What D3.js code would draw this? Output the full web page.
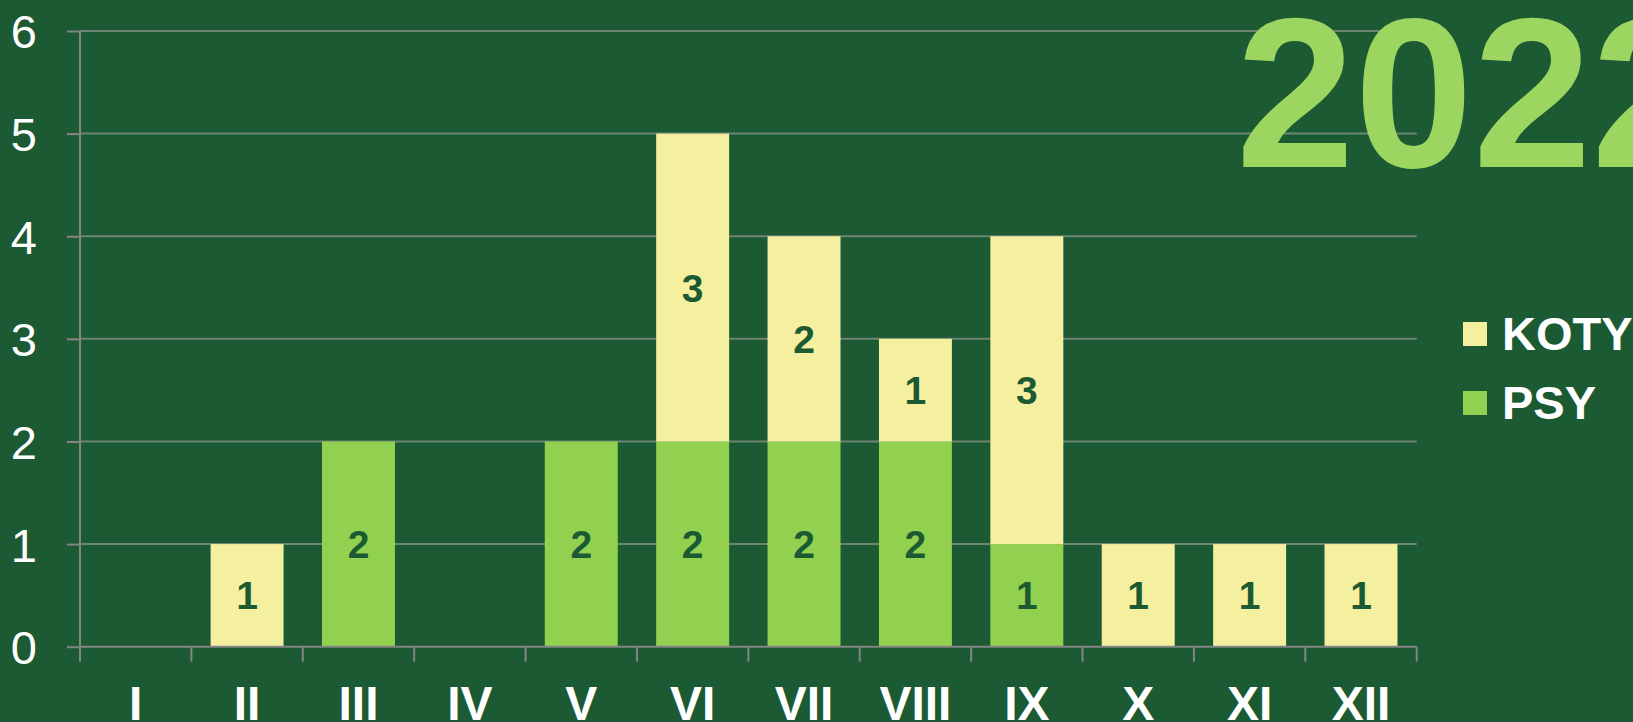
<!DOCTYPE html>
<html>
<head>
<meta charset="utf-8">
<script src="https://cdn.jsdelivr.net/npm/d3@7"></script>
<style>
  html, body { margin: 0; padding: 0; background: #1b5a32; overflow: hidden; }
  svg { display: block; }
</style>
</head>
<body>
<div id="chart"></div>
<script>
// data
var months = ["I", "II", "III", "IV", "V", "VI", "VII", "VIII", "IX", "X", "XI", "XII"];
var psy = [0, 0, 2, 0, 2, 2, 2, 2, 1, 0, 0, 0];
var koty = [0, 1, 0, 0, 0, 3, 2, 1, 3, 1, 1, 1];
var yTicks = [0, 1, 2, 3, 4, 5, 6];
var seriesNames = ["PSY", "KOTY"];
var legendNames = ["KOTY", "PSY"];
var title = "2022";

var w = 1633;
var h = 722;
var bg = "#1b5a32";
var colors = { "KOTY": "#f5efa0", "PSY": "#92d050" };

// NOTE: "top" is taken by window.top, so plot edges get their own names
var plotLeft = 80, plotRight = 1416.7, plotTop = 31, plotBottom = 646.7;

var svg = d3.select("#chart")
    .append("svg")
    .attr("width", w)
    .attr("height", h);

svg.append("rect")
    .attr("width", w)
    .attr("height", h)
    .attr("fill", bg);

var table = months.map(function(m, i) {
    return { month: m, PSY: psy[i], KOTY: koty[i] };
});

var xScale = d3.scaleBand()
    .domain(months)
    .range([plotLeft, plotRight])
    .paddingInner(0.345)
    .paddingOuter(0.1725);

// band without padding, for the tick marks between months
var xStep = d3.scaleBand()
    .domain(months)
    .range([plotLeft, plotRight]);

var yScale = d3.scaleLinear()
    .domain([0, 6])
    .range([plotBottom, plotTop]);

// gridlines
svg.append("g")
    .selectAll("line")
    .data(yTicks.filter(function(d) { return d > 0; }))
    .enter()
    .append("line")
    .attr("x1", plotLeft)
    .attr("x2", plotRight)
    .attr("y1", function(d) { return yScale(d); })
    .attr("y2", function(d) { return yScale(d); })
    .attr("stroke", "#6f8574")
    .attr("stroke-width", 2);

// stacked bars
var stack = d3.stack().keys(seriesNames);
var layers = stack(table);

var layer = svg.append("g")
    .selectAll("g")
    .data(layers)
    .enter()
    .append("g")
    .attr("fill", function(d) { return colors[d.key]; });

layer.selectAll("rect")
    .data(function(d) { return d; })
    .enter()
    .append("rect")
    .attr("x", function(d) { return xScale(d.data.month); })
    .attr("width", xScale.bandwidth())
    .attr("y", function(d) { return yScale(d[1]); })
    .attr("height", function(d) { return yScale(d[0]) - yScale(d[1]); });

// value labels inside segments
layer.selectAll("text")
    .data(function(d) { return d.filter(function(s) { return s[1] - s[0] > 0; }); })
    .enter()
    .append("text")
    .attr("x", function(d) { return xScale(d.data.month) + xScale.bandwidth() / 2; })
    .attr("y", function(d) { return (yScale(d[0]) + yScale(d[1])) / 2; })
    .attr("dy", "0.36em")
    .attr("text-anchor", "middle")
    .attr("font-family", "Liberation Sans, Arial, sans-serif")
    .attr("font-weight", "bold")
    .attr("font-size", "39px")
    .attr("fill", bg)
    .text(function(d) { return d[1] - d[0]; });

// y axis
var yAxis = svg.append("g")
    .attr("transform", "translate(" + plotLeft + ",0)")
    .call(d3.axisLeft(yScale).tickValues(yTicks).tickSize(13).tickPadding(30).tickFormat(d3.format("d")));
yAxis.selectAll("line, path").attr("stroke", "#858585").attr("stroke-width", 2);
yAxis.select("path").attr("d", "M0," + plotBottom + "V" + plotTop);
yAxis.selectAll("text")
    .attr("font-family", "Liberation Sans, Arial, sans-serif")
    .attr("font-size", "47px")
    .attr("fill", "#ffffff")
    .attr("dy", "0.36em");

// x axis
var xAxis = svg.append("g")
    .attr("transform", "translate(0," + plotBottom + ")");
xAxis.append("line")
    .attr("x1", plotLeft)
    .attr("x2", plotRight)
    .attr("stroke", "#858585")
    .attr("stroke-width", 2);
xAxis.selectAll(".tk")
    .data(months.concat(["end"]))
    .enter()
    .append("line")
    .attr("class", "tk")
    .attr("x1", function(d, i) { return plotLeft + i * xStep.step(); })
    .attr("x2", function(d, i) { return plotLeft + i * xStep.step(); })
    .attr("y1", 0)
    .attr("y2", 15)
    .attr("stroke", "#858585")
    .attr("stroke-width", 2);
xAxis.selectAll("text")
    .data(months)
    .enter()
    .append("text")
    .attr("x", function(d) { return xStep(d) + xStep.bandwidth() / 2; })
    .attr("y", 73)
    .attr("text-anchor", "middle")
    .attr("font-family", "Liberation Sans, Arial, sans-serif")
    .attr("font-weight", "bold")
    .attr("font-size", "48px")
    .attr("fill", "#ffffff")
    .text(function(d) { return d; });

// big year title, runs off the right edge like the original
svg.append("text")
    .attr("x", 1236)
    .attr("y", 166.7)
    .attr("font-family", "Liberation Sans, Arial, sans-serif")
    .attr("font-weight", "bold")
    .attr("font-size", "213px")
    .attr("fill", "#9cd660")
    .text(title);

// legend
var legend = svg.append("g")
    .selectAll("g")
    .data(legendNames)
    .enter()
    .append("g")
    .attr("transform", function(d, i) { return "translate(1463," + (322 + i * 69) + ")"; });
legend.append("rect")
    .attr("width", 24)
    .attr("height", 24)
    .attr("fill", function(d) { return colors[d]; });
legend.append("text")
    .attr("x", 39)
    .attr("y", 28)
    .attr("font-family", "Liberation Sans, Arial, sans-serif")
    .attr("font-weight", "bold")
    .attr("font-size", "47px")
    .attr("fill", "#ffffff")
    .text(function(d) { return d; });
</script>
</body>
</html>
